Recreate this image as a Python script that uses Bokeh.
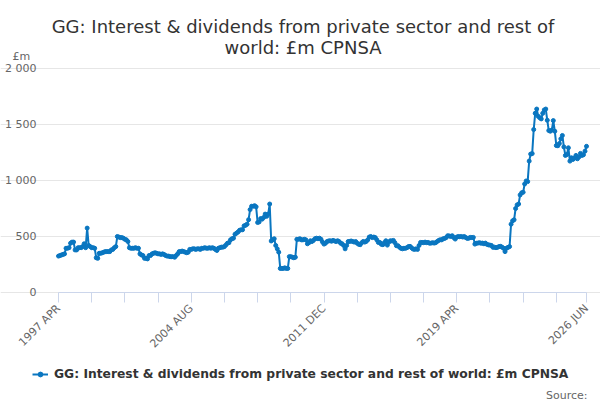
import math
from bokeh.plotting import figure
from bokeh.models import Range1d, FixedTicker, Legend, LegendItem, Label
from bokeh.embed import file_html
from bokeh.resources import INLINE

# ---- data (monthly, 1997 APR .. 2026 JUN), £m ----
y1997 = [325, 330, 335, 340, 345, 395, 395, 400, 440]  # Apr-Dec
y1998 = [450, 450, 380, 380, 400, 400, 400, 410, 435, 400, 575, 420]
y1999 = [410, 400, 400, 395, 310, 305, 350, 350, 355, 360, 365, 365]
y2000 = [365, 365, 380, 385, 400, 410, 500, 495, 490, 490, 485, 475]
y2001 = [470, 455, 400, 395, 395, 395, 400, 395, 395, 345, 335, 330]
y2002 = [305, 305, 300, 330, 330, 345, 350, 355, 350, 345, 345, 340]
y2003 = [345, 340, 330, 325, 325, 320, 320, 320, 315, 330, 345, 365]
y2004 = [365, 370, 365, 360, 355, 360, 385, 385, 390, 390, 385, 390]
y2005 = [390, 385, 395, 395, 400, 395, 395, 400, 395, 400, 395, 385]
y2006 = [375, 395, 400, 405, 405, 410, 425, 440, 445, 470, 480, 485]
y2007 = [520, 530, 540, 555, 560, 560, 595, 600, 610, 650, 740, 770]
y2008 = [770, 775, 765, 625, 630, 660, 655, 670, 700, 680, 700, 790]
y2009 = [460, 470, 480, 420, 390, 360, 215, 215, 215, 220, 215, 215]
y2010 = [320, 320, 315, 310, 315, 475, 475, 480, 470, 470, 475, 470]
y2011 = [435, 445, 462, 455, 465, 480, 485, 480, 485, 475, 450, 432]
y2012 = [440, 455, 460, 462, 458, 465, 460, 455, 462, 455, 440, 435]
y2013 = [420, 390, 420, 455, 456, 460, 455, 450, 455, 440, 430, 427]
y2014 = [445, 456, 450, 456, 470, 495, 500, 490, 495, 490, 470, 447]
y2015 = [447, 430, 427, 445, 462, 423, 450, 462, 460, 465, 445, 418]
y2016 = [418, 405, 394, 390, 395, 394, 400, 410, 412, 400, 388, 385]
y2017 = [390, 385, 420, 447, 447, 445, 450, 445, 447, 440, 441, 445]
y2018 = [441, 445, 455, 465, 471, 470, 480, 483, 490, 507, 505, 500]
y2019 = [507, 490, 477, 495, 500, 498, 500, 495, 500, 490, 483, 485]
y2020 = [492, 490, 492, 432, 440, 441, 445, 440, 441, 435, 441, 430]
y2021 = [425, 423, 420, 403, 405, 400, 403, 410, 412, 405, 395, 365]
y2022 = [395, 403, 410, 610, 640, 649, 750, 782, 790, 871, 890, 895]
y2023 = [969, 996, 990, 1173, 1236, 1240, 1455, 1600, 1638, 1573, 1560, 1550]
y2024 = [1600, 1630, 1638, 1538, 1446, 1440, 1450, 1535, 1440, 1312, 1310, 1330]
y2025 = [1372, 1402, 1300, 1224, 1232, 1292, 1173, 1203, 1188, 1200, 1224, 1194]
y2026 = [1210, 1242, 1224, 1230, 1262, 1305]  # Jan-Jun

values = (y1997 + y1998 + y1999 + y2000 + y2001 + y2002 + y2003 + y2004 + y2005
          + y2006 + y2007 + y2008 + y2009 + y2010 + y2011 + y2012 + y2013 + y2014
          + y2015 + y2016 + y2017 + y2018 + y2019 + y2020 + y2021 + y2022 + y2023
          + y2024 + y2025 + y2026)
months = list(range(len(values)))  # 0 = 1997 APR

tick_positions = [0, 22, 44, 66, 88, 110, 132, 154, 176, 198, 220, 242, 264, 286, 308, 330, 350]
tick_labels = {0: "1997 APR", 88: "2004 AUG", 176: "2011 DEC", 264: "2019 APR", 350: "2026 JUN"}
y_ticks = [0, 500, 1000, 1500, 2000]
y_tick_labels = {0: "0", 500: "500", 1000: "1 000", 1500: "1 500", 2000: "2 000"}

title_lines = ["GG: Interest & dividends from private sector and rest of", "world: £m CPNSA"]
series_name = "GG: Interest & dividends from private sector and rest of world: £m CPNSA"
unit_label = "£m"
source_text = "Source:"

FONT = "DejaVu Sans"
BLUE = "#0a76c0"
XMAX = len(values) - 1
YMAX = 2000

W, H = 600, 400
PL, PR, PT, PB = 58, 586, 68, 292   # plot area on the page (px)
sx = (PR - PL) / XMAX               # px per month
sy = (PB - PT) / YMAX               # px per £m


def dx(px):
    return (px - PL) / sx


def dy(py):
    return (PB - py) / sy


# the frame covers the whole canvas; axes are pinned at month 0 / £0
p = figure(width=W, height=H, output_backend="svg", toolbar_location=None, title=None,
           x_range=Range1d(dx(0), dx(W)), y_range=Range1d(dy(H), dy(0)),
           min_border=0)
p.outline_line_color = None

line_r = p.line(months, values, line_color=BLUE, line_width=2)
dot_r = p.scatter(months, values, size=4, fill_color=BLUE, line_color=BLUE)

p.xgrid.visible = False
p.ygrid.ticker = FixedTicker(ticks=y_ticks)
p.ygrid.grid_line_color = "#e6e6e6"
p.ygrid.bounds = (0, XMAX)

xa = p.xaxis[0]
xa.fixed_location = 0
xa.bounds = (0, XMAX)
xa.ticker = FixedTicker(ticks=tick_positions)
xa.major_label_overrides = {t: tick_labels.get(t, "") for t in tick_positions}
xa.major_label_orientation = math.pi / 4
xa.axis_line_color = "#ccd6eb"
xa.major_tick_line_color = "#ccd6eb"
xa.major_tick_out = 10
xa.major_tick_in = 0
xa.minor_tick_line_color = None
xa.major_label_text_font = FONT
xa.major_label_text_font_size = "11px"
xa.major_label_text_color = "#666666"
xa.major_label_standoff = 4

ya = p.yaxis[0]
ya.fixed_location = 0
ya.bounds = (0, YMAX)
ya.ticker = FixedTicker(ticks=y_ticks)
ya.major_label_overrides = y_tick_labels
ya.axis_line_color = None
ya.major_tick_line_color = None
ya.minor_tick_line_color = None
ya.major_label_text_font = FONT
ya.major_label_text_font_size = "11px"
ya.major_label_text_color = "#666666"
ya.major_label_standoff = 16

# ---- texts ----
for txt, base in zip(title_lines, [25.5, 47]):
    p.add_layout(Label(x=dx(302.5), y=dy(base), text=txt, text_align="center",
                       text_baseline="alphabetic", text_font=FONT,
                       text_font_size="18px", text_color="#333333"))
p.add_layout(Label(x=dx(12), y=dy(56), text=unit_label, text_align="left",
                   text_baseline="alphabetic", text_font=FONT,
                   text_font_size="11px", text_color="#666666"))
p.add_layout(Label(x=dx(587), y=dy(394.5), text=source_text, text_align="right",
                   text_baseline="alphabetic", text_font=FONT,
                   text_font_size="11px", text_color="#666666"))

legend = Legend(items=[LegendItem(label=series_name, renderers=[line_r, dot_r])],
                location=(32, H - 381), orientation="horizontal",
                padding=0, margin=0, spacing=0, glyph_width=16, glyph_height=12,
                label_standoff=6, label_text_font=FONT, label_text_font_size="12.3px",
                label_text_font_style="bold", label_text_color="#333333",
                background_fill_alpha=0, border_line_color=None)
p.add_layout(legend, "center")

open("out.html", "w").write(file_html(p, INLINE))
